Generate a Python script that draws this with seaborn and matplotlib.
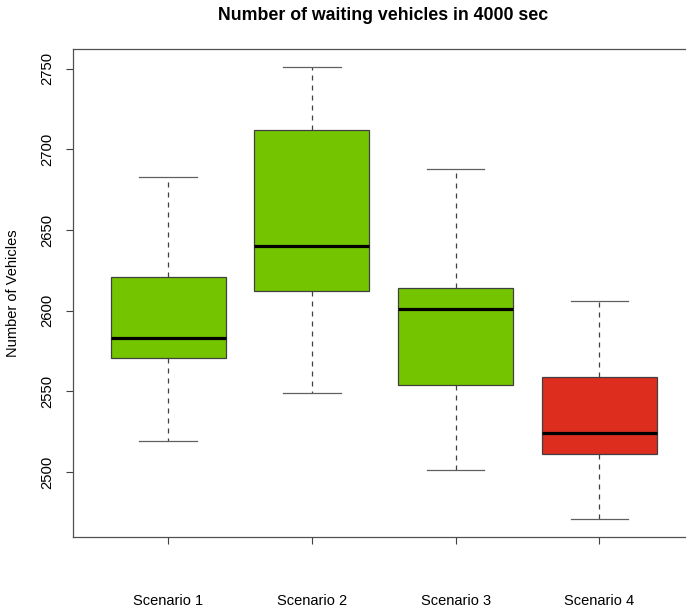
import numpy as np
import pandas as pd
import seaborn as sns
import matplotlib
matplotlib.use("Agg")
import matplotlib.pyplot as plt

# five-number summaries (min, Q1, median, Q3, max)
scenarios = ["Scenario 1", "Scenario 2", "Scenario 3", "Scenario 4"]
s1 = [2519, 2571, 2583, 2621, 2683]
s2 = [2549, 2612, 2640, 2712, 2751]
s3 = [2501, 2554, 2601, 2614, 2688]
s4 = [2471, 2511, 2524, 2559, 2606]
colors = ["#74C400", "#74C400", "#74C400", "#DC2D1E"]
yticks = [2500, 2550, 2600, 2650, 2700, 2750]

tabela = pd.DataFrame({
    "scenario": np.repeat(scenarios, 5),
    "vehicles": s1 + s2 + s3 + s4,
})

plt.rcParams["font.family"] = ["Liberation Sans", "DejaVu Sans"]

fig = plt.figure(figsize=(6.86, 6.10), dpi=100)
# frame runs past the right edge of the image, like the original
ax = fig.add_axes([0.106, 0.1197, 0.906, 0.80])

sns.boxplot(data=tabela, x="scenario", y="vehicles", hue="scenario",
            palette=colors, legend=False, whis=np.inf, width=0.8,
            linecolor="#404040", linewidth=0.9, saturation=1,
            whiskerprops=dict(linestyle=(0, (4, 4)), color="#404040"),
            capprops=dict(color="#606060"),
            medianprops=dict(color="black", linewidth=2.3),
            ax=ax)

ax.set_xlim(-0.664, 3.66)
ax.set_ylim(2459.8, 2762.2)
ax.set_yticks(yticks)
ax.set_yticklabels([str(v) for v in yticks], rotation=90, va="center")
ax.tick_params(axis="x", length=5, width=0.8, pad=36, labelsize=10.5, color="#404040")
ax.tick_params(axis="y", length=5, width=0.8, pad=8, labelsize=10.7, color="#404040")
for sp in ax.spines.values():
    sp.set_color("#505050")
    sp.set_linewidth(0.9)

ax.set_xlabel("")
ax.set_ylabel("Number of Vehicles", fontsize=10.5, labelpad=15)
fig.text(0.558, 0.967, "Number of waiting vehicles in 4000 sec", fontsize=12.8,
         fontweight="bold", ha="center", va="baseline")

fig.savefig("out.png", dpi=100)
